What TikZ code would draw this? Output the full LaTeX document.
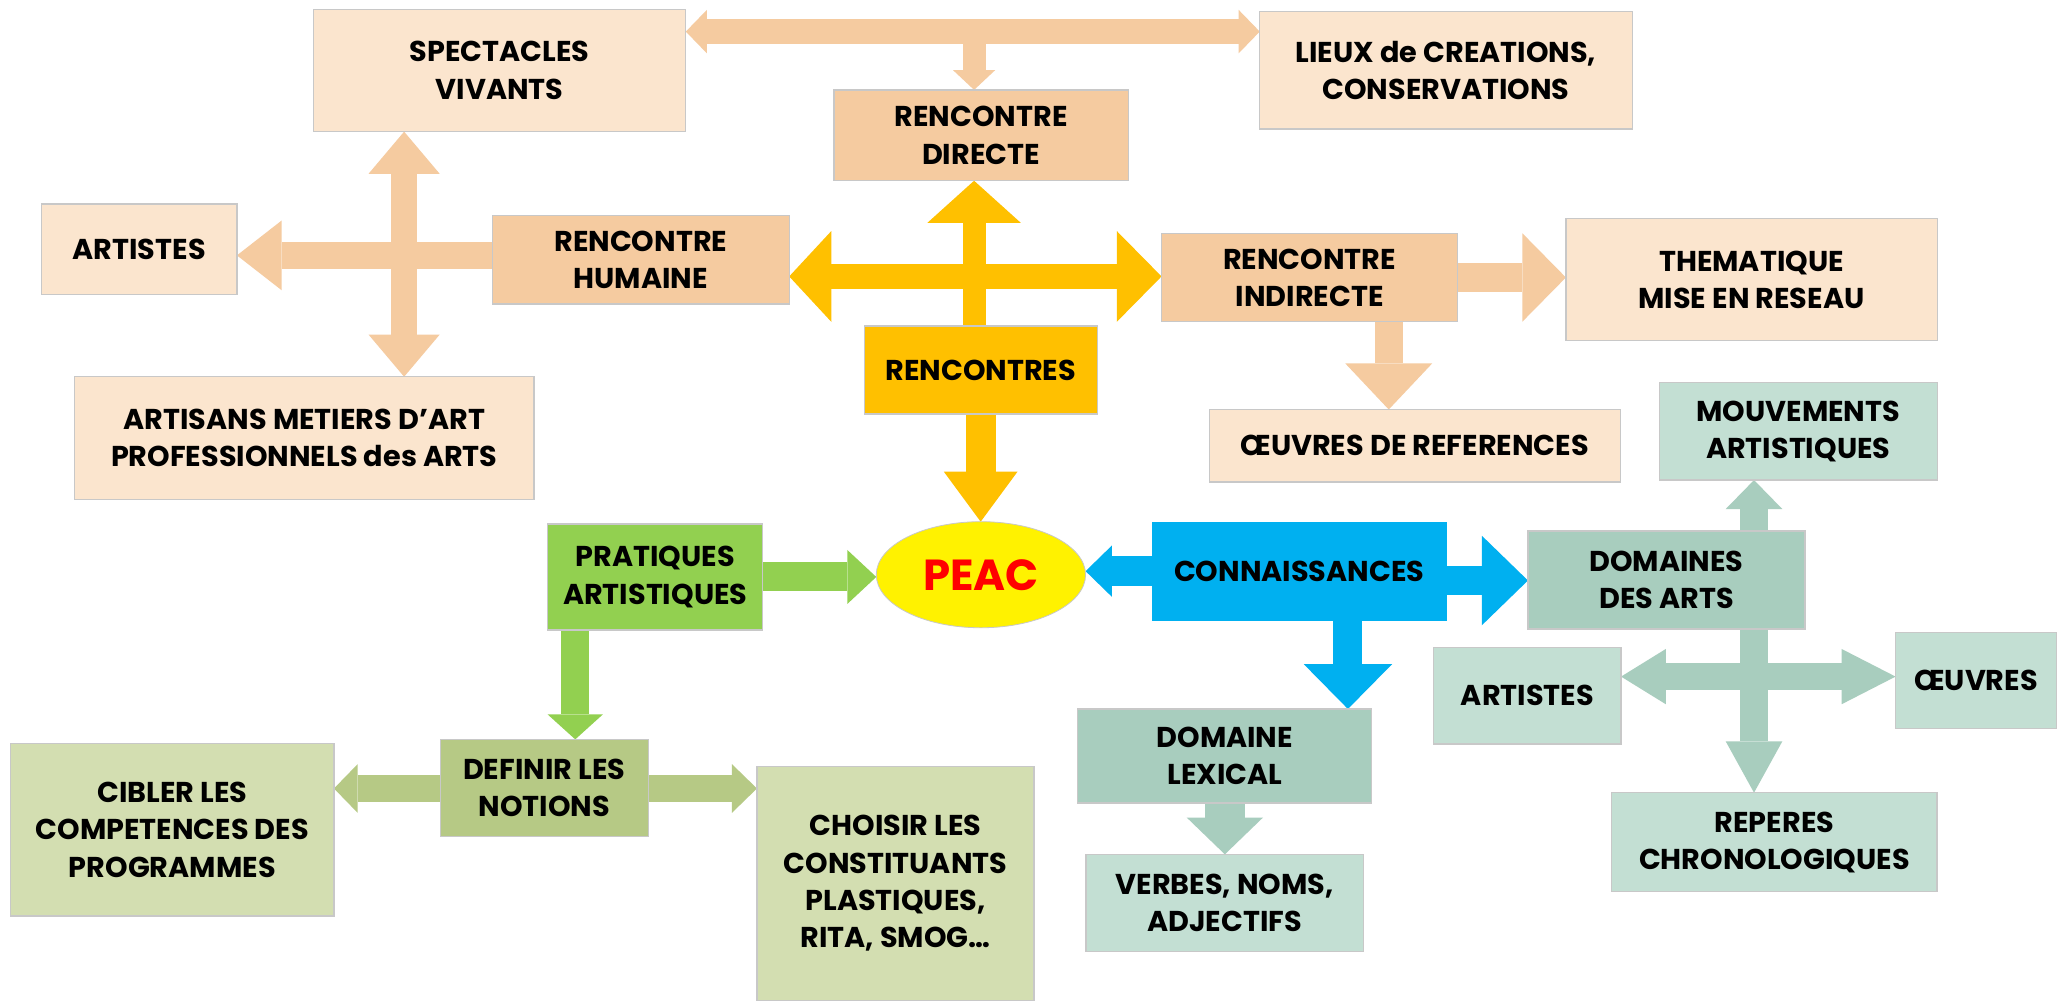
\documentclass[tikz,border=0pt]{standalone}
\usepackage{fontspec}
\setmainfont{Poppins}
\usetikzlibrary{arrows.meta,shapes.geometric}
\definecolor{peachL}{HTML}{FBE5CE}
\definecolor{peachM}{HTML}{F5CBA0}
\definecolor{goldC}{HTML}{FFC000}
\definecolor{grnC}{HTML}{92D050}
\definecolor{oliveM}{HTML}{B6C985}
\definecolor{oliveL}{HTML}{D3DEB1}
\definecolor{bluC}{HTML}{00B0F0}
\definecolor{tealM}{HTML}{A8CDBE}
\definecolor{tealL}{HTML}{C3DFD3}
\definecolor{edgeC}{HTML}{C8C8C8}
\pgfdeclarelayer{bg}
\pgfsetlayers{bg,main}
\tikzset{
  box/.style={draw=edgeC, line width=0.9pt, inner sep=0pt, outer sep=0pt, align=center,
    font=\bfseries\fontsize{21.8}{28.3}\selectfont},
  blk/.style={line width=#1},
}
\begin{document}
\begin{tikzpicture}[x=1pt,y=-1pt]
\useasboundingbox (0,0) rectangle (1568,761);

% ---------- boxes ----------
\node[box, fill=peachL, minimum width=283pt, minimum height=93pt] (spect) at (379.5,53.5) {SPECTACLES\\VIVANTS};
\node[box, fill=peachL, minimum width=283pt, minimum height=89pt] (lieux) at (1098.5,53.5) {LIEUX de CREATIONS,\\CONSERVATIONS};
\node[box, fill=peachM, minimum width=223.4pt, minimum height=69pt] (direct) at (745.3,102.8) {RENCONTRE\\DIRECTE};
\node[box, fill=peachL, minimum width=148.6pt, minimum height=69pt] (artL) at (105.7,189.5) {ARTISTES};
\node[box, fill=peachM, minimum width=225.5pt, minimum height=67pt] (humaine) at (486.8,197.4) {RENCONTRE\\HUMAINE};
\node[box, fill=peachM, minimum width=225pt, minimum height=67pt] (indirecte) at (994.9,210.8) {RENCONTRE\\INDIRECTE};
\node[box, fill=peachL, minimum width=282pt, minimum height=93pt] (thema) at (1330.6,212.4) {THEMATIQUE\\MISE EN RESEAU};
\node[box, fill=goldC, minimum width=177pt, minimum height=66.8pt] (renc) at (745,281.1) {RENCONTRES};
\node[box, fill=peachL, minimum width=349pt, minimum height=93pt] (artisans) at (231.2,332.7) {ARTISANS METIERS D’ART\\PROFESSIONNELS des ARTS};
\node[box, fill=peachL, minimum width=312pt, minimum height=55pt] (oeuvref) at (1074.8,338.6) {ŒUVRES DE REFERENCES};
\node[box, fill=tealL, minimum width=211pt, minimum height=74pt] (mouv) at (1366.1,327.7) {MOUVEMENTS\\ARTISTIQUES};
\node[box, fill=grnC, minimum width=163.3pt, minimum height=80.6pt] (prat) at (497.8,438.3) {PRATIQUES\\ARTISTIQUES};
\node[ellipse, draw=edgeC, line width=0.6pt, fill=yellow, inner sep=0pt, outer sep=0pt,
  minimum width=159pt, minimum height=80.6pt, text=red,
  font=\bfseries\fontsize{33}{38}\selectfont] (peac) at (745.2,436.6) {PEAC};
\node[box, fill=bluC, draw=none, minimum width=224pt, minimum height=75.2pt] (conn) at (987,433.9) {CONNAISSANCES};
\node[box, fill=tealM, minimum width=210.5pt, minimum height=74.5pt] (domaines) at (1266,440.6) {DOMAINES\\DES ARTS};
\node[box, fill=tealL, minimum width=142.2pt, minimum height=73.4pt] (artR) at (1160.4,528.5) {ARTISTES};
\node[box, fill=tealL, minimum width=122.3pt, minimum height=72.9pt] (oeuv) at (1501.2,516.9) {ŒUVRES};
\node[box, fill=tealM, minimum width=223.4pt, minimum height=71.4pt] (lexical) at (930.5,574.3) {DOMAINE\\LEXICAL};
\node[box, fill=oliveM, minimum width=158pt, minimum height=74pt] (definir) at (413.4,598.7) {DEFINIR LES\\NOTIONS};
\node[box, fill=oliveL, minimum width=245.6pt, minimum height=131.2pt] (cibler) at (130.9,630.3) {CIBLER LES\\COMPETENCES DES\\PROGRAMMES};
\node[box, fill=oliveL, minimum width=210.5pt, minimum height=178pt] (choisir) at (680.3,671) {CHOISIR LES\\CONSTITUANTS\\PLASTIQUES,\\RITA, SMOG…};
\node[box, fill=tealL, minimum width=210.6pt, minimum height=73.5pt] (verbes) at (930.3,685.8) {VERBES, NOMS,\\ADJECTIFS};
\node[box, fill=tealL, minimum width=247pt, minimum height=75.2pt] (reperes) at (1348,639.8) {REPERES\\CHRONOLOGIQUES};

% ---------- block arrows ----------
\begin{pgfonlayer}{bg}
\fill[white] (0,0) rectangle (1568,761);
\coordinate (tb) at (740,24);
\coordinate (lx) at (307,194);
\coordinate (cy) at (740,210);
\coordinate (ix) at (1055,0);
\coordinate (px) at (437,0);
\coordinate (gy) at (0,441);
\coordinate (cx) at (1024,0);
\coordinate (hx) at (1332.5,514);
\coordinate (dy) at (0,599);

% top T arrow
\draw[peachM, blk=19pt,
  {Triangle[width=33pt,length=16pt,line width=0pt]}-{Triangle[width=33pt,length=16pt,line width=0pt]}]
  (spect.east |- tb) -- (lieux.west |- tb);
\draw[peachM, blk=17.5pt, -{Triangle[width=32pt,length=15pt,line width=0pt]}]
  (tb) -- (tb |- direct.north);

% left cross
\draw[peachM, blk=20pt,
  {Triangle[width=54pt,length=32pt,line width=0pt]}-{Triangle[width=54pt,length=32pt,line width=0pt]}]
  (lx |- spect.south) -- (lx |- artisans.north);
\draw[peachM, blk=20pt, -{Triangle[width=53pt,length=34pt,line width=0pt]}]
  (humaine.west |- lx) -- (artL.east |- lx);

% central gold cross
\draw[goldC, blk=18.5pt,
  {Triangle[width=69pt,length=32pt,line width=0pt]}-{Triangle[width=69pt,length=34pt,line width=0pt]}]
  (humaine.east |- cy) -- (indirecte.west |- cy);
\draw[goldC, blk=17.5pt, -{Triangle[width=71pt,length=32pt,line width=0pt]}]
  (cy |- renc.north) -- (cy |- direct.south);
\draw[goldC, blk=23pt, -{Triangle[width=56pt,length=38pt,line width=0pt]}]
  (renc.south) -- (renc.south |- peac.north);

% indirecte arrows
\draw[peachM, blk=22.5pt, -{Triangle[width=67pt,length=33pt,line width=0pt]}]
  (indirecte.east) -- (thema.west |- indirecte.east);
\draw[peachM, blk=21pt, -{Triangle[width=66pt,length=35pt,line width=0pt]}]
  (ix |- indirecte.south) -- (ix |- oeuvref.north);

% pratiques
\draw[grnC, blk=22pt, -{Triangle[width=41pt,length=22pt,line width=0pt]}]
  (prat.east) -- (peac.west |- prat.east);
\draw[grnC, blk=21.6pt, -{Triangle[width=42pt,length=19pt,line width=0pt]}]
  (px |- prat.south) -- (px |- definir.north);

% connaissances
\draw[bluC, blk=23pt, -{Triangle[width=39pt,length=20pt,line width=0pt]}]
  (conn.west) -- (peac.east |- conn.west);
\draw[bluC, blk=22pt, -{Triangle[width=68pt,length=35pt,line width=0pt]}]
  (conn.east |- gy) -- (domaines.west |- gy);
\draw[bluC, blk=22pt, -{Triangle[width=67pt,length=34pt,line width=0pt]}]
  (cx |- conn.south) -- (cx |- lexical.north);

% domaines cross
\draw[tealM, blk=21pt,
  {Triangle[width=43pt,length=22pt,line width=0pt]}-{Triangle[width=43pt,length=39pt,line width=0pt]}]
  (hx |- mouv.south) -- (hx |- reperes.north);
\draw[tealM, blk=21pt,
  {Triangle[width=42pt,length=34pt,line width=0pt]}-{Triangle[width=42pt,length=41pt,line width=0pt]}]
  (artR.east |- hx) -- (oeuv.west |- hx);

% lexical
\draw[tealM, blk=30pt, -{Triangle[width=58pt,length=28pt,line width=0pt]}]
  (lexical.south) -- (lexical.south |- verbes.north);

% definir
\draw[oliveM, blk=21pt,
  {Triangle[width=37pt,length=18pt,line width=0pt]}-{Triangle[width=37pt,length=19pt,line width=0pt]}]
  (cibler.east |- dy) -- (choisir.west |- dy);
\end{pgfonlayer}
\end{tikzpicture}
\end{document}
